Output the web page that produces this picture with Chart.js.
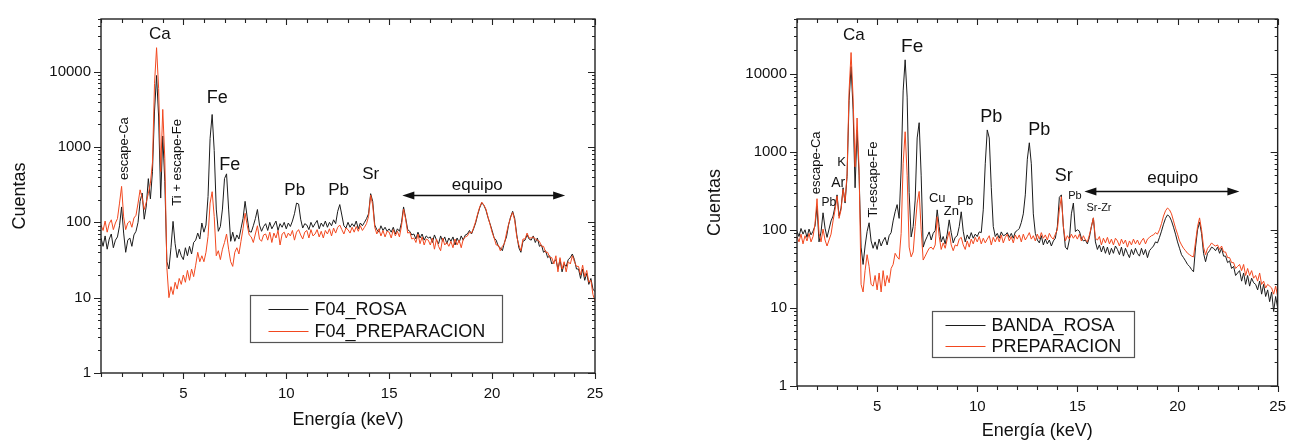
<!DOCTYPE html>
<html>
<head>
<meta charset="utf-8">
<script src="https://cdn.jsdelivr.net/npm/chart.js@4.4.1/dist/chart.umd.min.js"></script>
<style>
  body { margin: 0; background: #fff; }
  canvas { position: absolute; top: 0; }
  #left { left: 0; }
  #right { left: 695px; }
</style>
</head>
<body>
<canvas id="left" width="640" height="442"></canvas>
<canvas id="right" width="603" height="442"></canvas>
<script>
const FONT = '"Liberation Sans", Arial, sans-serif'

// energy channels (keV)
const energia = [
  1.0,1.1,1.2,1.3,1.4,1.5,1.6,1.7,1.8,1.9,
  2.0,2.1,2.2,2.3,2.4,2.5,2.6,2.7,2.8,2.9,
  3.0,3.1,3.2,3.3,3.4,3.5,3.6,3.7,3.8,3.9,
  4.0,4.1,4.2,4.3,4.4,4.5,4.6,4.7,4.8,4.9,
  5.0,5.1,5.2,5.3,5.4,5.5,5.6,5.7,5.8,5.9,
  6.0,6.1,6.2,6.3,6.4,6.5,6.6,6.7,6.8,6.9,
  7.0,7.1,7.2,7.3,7.4,7.5,7.6,7.7,7.8,7.9,
  8.0,8.1,8.2,8.3,8.4,8.5,8.6,8.7,8.8,8.9,
  9.0,9.1,9.2,9.3,9.4,9.5,9.6,9.7,9.8,9.9,
  10.0,10.1,10.2,10.3,10.4,10.5,10.6,10.7,10.8,10.9,
  11.0,11.1,11.2,11.3,11.4,11.5,11.6,11.7,11.8,11.9,
  12.0,12.1,12.2,12.3,12.4,12.5,12.6,12.7,12.8,12.9,
  13.0,13.1,13.2,13.3,13.4,13.5,13.6,13.7,13.8,13.9,
  14.0,14.1,14.2,14.3,14.4,14.5,14.6,14.7,14.8,14.9,
  15.0,15.1,15.2,15.3,15.4,15.5,15.6,15.7,15.8,15.9,
  16.0,16.1,16.2,16.3,16.4,16.5,16.6,16.7,16.8,16.9,
  17.0,17.1,17.2,17.3,17.4,17.5,17.6,17.7,17.8,17.9,
  18.0,18.1,18.2,18.3,18.4,18.5,18.6,18.7,18.8,18.9,
  19.0,19.1,19.2,19.3,19.4,19.5,19.6,19.7,19.8,19.9,
  20.0,20.1,20.2,20.3,20.4,20.5,20.6,20.7,20.8,20.9,
  21.0,21.1,21.2,21.3,21.4,21.5,21.6,21.7,21.8,21.9,
  22.0,22.1,22.2,22.3,22.4,22.5,22.6,22.7,22.8,22.9,
  23.0,23.1,23.2,23.3,23.4,23.5,23.6,23.7,23.8,23.9,
  24.0,24.1,24.2,24.3,24.4,24.5,24.6,24.7,24.8,24.9,
  25.0
]

// left panel: F04_ROSA / F04_PREPARACION
const f04Rosa = [
  62,48,66,44,60,70,46,58,64,90,
  160,72,40,58,62,48,68,76,100,190,
  245,110,165,380,205,470,3000,8900,2500,210,
  1400,350,30,24,46,103,52,34,44,36,
  32,46,36,48,38,54,58,72,60,98,
  74,92,220,1300,2700,900,150,76,88,150,
  380,440,150,56,74,56,68,60,82,112,
  190,118,76,74,90,112,148,92,76,88,
  96,78,100,82,92,104,78,96,86,100,
  82,98,88,104,130,180,175,110,84,96,
  92,80,100,86,96,106,82,98,88,104,
  86,100,90,108,96,140,172,125,90,84,
  100,86,96,88,104,82,98,90,100,112,
  130,240,190,92,80,74,90,78,86,76,
  82,74,86,70,82,76,100,160,115,80,
  76,68,70,60,74,62,70,58,66,62,
  64,54,68,58,52,66,56,64,52,62,
  56,64,50,62,54,66,58,68,70,78,
  70,82,98,126,156,182,168,146,116,96,
  78,62,58,48,46,42,54,64,92,118,
  140,112,68,46,40,56,58,68,60,58,
  66,54,62,48,50,40,42,34,36,28,
  30,32,24,32,22,28,26,32,34,38,
  32,24,24,18,24,17,21,15,18,13,
  12
]
const f04Prep = [
  92,78,104,74,96,108,80,98,112,180,
  300,118,80,98,104,86,114,124,180,270,
  210,148,185,240,330,620,7000,20800,6000,470,
  3150,700,25,10,14,11,16,13,18,15,
  20,16,23,17,24,19,27,40,30,36,
  30,40,65,180,255,120,36,42,32,44,
  54,70,44,30,26,40,46,38,56,82,
  132,92,68,64,54,70,90,60,56,68,
  70,58,74,54,72,62,78,50,70,74,
  62,72,66,78,58,74,80,68,60,74,
  78,62,80,66,70,80,64,76,62,78,
  70,82,66,84,72,86,92,80,70,84,
  80,72,86,74,88,76,90,78,86,96,
  120,230,170,86,70,82,66,78,64,76,
  74,62,80,66,76,64,90,150,110,72,
  74,60,62,54,70,52,64,50,60,58,
  50,62,44,60,48,42,62,50,54,48,
  56,46,60,50,58,46,60,64,66,74,
  72,84,102,130,160,185,170,150,118,94,
  74,62,50,50,42,48,52,72,94,116,
  135,106,64,50,42,60,60,72,62,62,
  64,60,58,56,48,48,40,40,34,34,
  28,36,22,34,24,30,22,30,28,36,
  30,26,26,20,27,19,23,16,17,11,
  9
]

// right panel: BANDA_ROSA / PREPARACION
const bandaRosa = [
  96,82,104,88,100,80,102,86,96,112,
  200,70,94,165,105,80,102,130,150,200,
  280,150,190,345,220,480,4500,12300,3500,345,
  1900,500,60,36,62,95,123,72,58,70,
  56,76,62,72,80,64,84,92,130,170,
  210,140,600,6000,15000,5000,300,81,110,240,
  1500,2350,500,60,72,82,94,74,90,98,
  180,110,70,82,66,88,134,92,68,80,
  84,110,170,96,70,86,76,92,78,88,
  82,94,92,180,700,1900,1500,350,110,82,
  90,78,94,84,86,92,80,90,78,94,
  98,104,124,160,280,800,1300,700,160,90,
  74,68,84,64,76,66,74,62,72,78,
  110,260,280,110,60,56,74,160,220,95,
  100,96,78,72,74,66,80,110,142,70,
  56,64,52,62,50,60,48,58,50,62,
  56,48,60,46,58,50,44,56,48,58,
  50,46,58,48,56,44,54,58,62,70,
  68,80,96,118,140,155,148,130,108,88,
  70,58,48,44,40,36,34,31,29,60,
  100,125,90,50,39,50,54,60,58,54,
  60,50,58,46,46,38,40,32,34,26,
  28,30,22,28,20,26,19,24,21,20,
  17,22,15,20,14,17,12,16,9,14,
  10
]
const preparacion = [
  82,70,88,66,84,72,90,70,82,120,
  250,90,70,102,74,62,74,88,130,180,
  270,140,180,330,230,520,6000,18600,5000,640,
  2700,600,20,16,30,48,34,20,19,26,
  17,28,16,30,19,26,21,32,36,50,
  45,42,90,700,1800,500,60,45,52,110,
  220,310,100,41,46,52,58,60,56,64,
  147,82,56,68,58,76,95,64,54,64,
  62,76,80,64,56,72,60,76,66,80,
  70,82,66,78,68,76,84,64,80,70,
  82,70,86,68,80,88,72,82,68,86,
  76,86,70,88,74,82,92,76,84,72,
  88,76,92,78,86,74,90,80,76,88,
  100,180,265,110,72,84,76,88,78,86,
  76,88,72,84,74,70,86,110,142,78,
  74,82,64,78,68,80,66,76,64,78,
  72,62,76,66,74,60,72,64,76,66,
  74,64,72,78,66,76,80,84,86,92,
  88,100,120,150,175,190,180,160,130,105,
  88,72,64,58,54,50,48,46,45,70,
  110,142,100,60,48,58,62,68,64,62,
  64,56,62,52,52,44,44,38,38,32,
  34,36,30,36,26,32,26,30,24,26,
  22,28,20,22,18,20,19,18,15,19,
  14
]

const xTicks = [5, 10, 15, 20, 25]
const yTicks = [1, 10, 100, 1000, 10000]

// peak labels [text, energy, counts, font px, rotated]
const notasIzq = [
  ['Ca', 3.86, 31700, 17], ['Fe', 6.65, 4450, 18], ['Fe', 7.25, 570, 18],
  ['Pb', 10.41, 270, 17], ['Pb', 12.54, 270, 17], ['Sr', 14.1, 435, 17],
  ['equipo', 19.28, 310, 17],
  ['escape-Ca', 2.12, 950, 13, true], ['Ti + escape-Fe', 4.73, 625, 13, true]
]
const notasDer = [
  ['Ca', 3.84, 30700, 17], ['Fe', 6.75, 22200, 19],
  ['Pb', 10.7, 2760, 18], ['Pb', 13.1, 1900, 18], ['Sr', 14.32, 495, 18],
  ['Pb', 14.88, 275, 11], ['Sr-Zr', 16.08, 188, 11], ['equipo', 19.76, 455, 17],
  ['escape-Ca', 1.98, 720, 13, true], ['Pb', 2.59, 225, 12], ['Ar', 3.06, 390, 14],
  ['K', 3.23, 720, 13], ['Ti-escape-Fe', 4.82, 440, 13, true],
  ['Cu', 8.0, 250, 13], ['Zn', 8.71, 173, 13], ['Pb', 9.4, 230, 13]
]

function drawArrow(ctx, x1, x2, y) {
  ctx.beginPath(); ctx.moveTo(x1 + 6, y); ctx.lineTo(x2 - 6, y); ctx.stroke()
  ctx.beginPath()
  ctx.moveTo(x1, y); ctx.lineTo(x1 + 12, y - 4); ctx.lineTo(x1 + 12, y + 4); ctx.closePath()
  ctx.moveTo(x2, y); ctx.lineTo(x2 - 12, y - 4); ctx.lineTo(x2 - 12, y + 4); ctx.closePath()
  ctx.fill()
}

const decoraciones = {
  id: 'decoraciones',
  afterDatasetsDraw(chart, args, opts) {
    const { ctx, chartArea: a, scales: { x, y } } = chart
    ctx.save()
    // frame + ticks
    ctx.strokeStyle = '#222'
    ctx.lineWidth = 1.4
    ctx.strokeRect(a.left, a.top, a.right - a.left, a.bottom - a.top)
    ctx.lineWidth = 1.1
    ctx.beginPath()
    for (let e = 1; e <= 25; e++) {
      const px = Math.round(x.getPixelForValue(e)) + 0.5
      const len = e % 5 === 0 ? 6 : 4
      ctx.moveTo(px, a.bottom); ctx.lineTo(px, a.bottom + len)
      ctx.moveTo(px, a.top); ctx.lineTo(px, a.top + len)
    }
    for (let d = 1; d <= 10000; d *= 10) {
      for (let m = 1; m <= 9; m++) {
        const v = d * m
        if (v > 50000) break
        const py = Math.round(y.getPixelForValue(v)) + 0.5
        const len = m === 1 ? 7 : 3
        ctx.moveTo(a.left, py); ctx.lineTo(a.left - len, py)
        ctx.moveTo(a.right, py); ctx.lineTo(a.right - len, py)
      }
    }
    ctx.stroke()

    // peak labels
    ctx.fillStyle = '#111'
    ctx.textAlign = 'center'
    ctx.textBaseline = 'middle'
    opts.notas.forEach(([txt, e, v, size, rot]) => {
      ctx.save()
      ctx.translate(x.getPixelForValue(e), y.getPixelForValue(v))
      if (rot) ctx.rotate(-Math.PI / 2)
      ctx.font = size + 'px ' + FONT
      ctx.fillText(txt, 0, 0)
      ctx.restore()
    })

    // equipo arrow
    const [e1, e2, va] = opts.flecha
    ctx.strokeStyle = '#111'
    ctx.lineWidth = 1.3
    drawArrow(ctx, x.getPixelForValue(e1), x.getPixelForValue(e2), Math.round(y.getPixelForValue(va)) + 0.5)

    // legend box
    const [le, lv, w, h, l0] = opts.leyenda
    const lx = Math.round(x.getPixelForValue(le)) + 0.5
    const ly = Math.round(y.getPixelForValue(lv)) + 0.5
    ctx.fillStyle = '#fff'
    ctx.fillRect(lx, ly, w, h)
    ctx.strokeStyle = '#555'
    ctx.lineWidth = 1.2
    ctx.strokeRect(lx, ly, w, h)
    ctx.font = '18px ' + FONT
    ctx.textAlign = 'left'
    chart.data.datasets.forEach((ds, i) => {
      const ry = Math.round(ly + h * (0.29 + 0.46 * i)) + 0.5
      ctx.strokeStyle = ds.borderColor
      ctx.lineWidth = 1.2
      ctx.beginPath(); ctx.moveTo(lx + l0, ry); ctx.lineTo(lx + l0 + 40, ry); ctx.stroke()
      ctx.fillStyle = '#111'
      ctx.fillText(ds.label, lx + l0 + 46, ry + 1)
    })
    ctx.restore()
  }
}

function espectro(id, nombres, series, opts) {
  const colores = ['#1c1c1c', '#f2481f']
  return new Chart(document.getElementById(id), {
    type: 'line',
    data: {
      datasets: series.map((s, i) => ({
        label: nombres[i],
        data: energia.map((e, k) => ({ x: e, y: s[k] })),
        borderColor: colores[i],
        borderWidth: 1,
        pointRadius: 0,
        tension: 0,
        order: 1 - i
      }))
    },
    options: {
      responsive: false,
      animation: false,
      devicePixelRatio: 1,
      layout: { padding: { top: opts.top, right: opts.right } },
      plugins: {
        legend: { display: false },
        tooltip: { enabled: false },
        decoraciones: { notas: opts.notas, flecha: opts.flecha, leyenda: opts.leyenda }
      },
      scales: {
        x: {
          type: 'linear', min: 1, max: 25,
          grid: { display: false, drawTicks: false },
          border: { display: false },
          afterBuildTicks: s => { s.ticks = xTicks.map(v => ({ value: v })) },
          afterFit: s => { s.height = opts.xh },
          ticks: { font: { family: FONT, size: 15 }, color: '#111', padding: 12, maxRotation: 0 },
          title: { display: true, text: 'Energía (keV)', font: { family: FONT, size: 18 }, color: '#111',
                   padding: { top: 0, bottom: opts.tpad } }
        },
        y: {
          type: 'logarithmic', min: 1, max: 50000,
          grid: { display: false, drawTicks: false },
          border: { display: false },
          afterBuildTicks: s => { s.ticks = yTicks.map(v => ({ value: v })) },
          afterFit: s => { s.width = opts.yw },
          ticks: { font: { family: FONT, size: 15 }, color: '#111', padding: 10, callback: v => String(v) },
          title: { display: true, text: 'Cuentas', font: { family: FONT, size: 18 }, color: '#111',
                   padding: { top: 9, bottom: 0 } }
        }
      }
    },
    plugins: [decoraciones]
  })
}

espectro('left', ['F04_ROSA', 'F04_PREPARACION'], [f04Rosa, f04Prep], {
  top: 15, right: 45, xh: 69, yw: 101, tpad: 11,
  notas: notasIzq, flecha: [15.64, 23.55, 230], leyenda: [8.22, 10.9, 252, 47, 18]
})
espectro('right', ['BANDA_ROSA', 'PREPARACION'], [bandaRosa, preparacion], {
  top: 16, right: 11, xh: 56, yw: 102, tpad: 0,
  notas: notasDer, flecha: [15.35, 23.09, 318], leyenda: [7.76, 9.0, 202, 46, 13]
})
</script>
</body>
</html>
